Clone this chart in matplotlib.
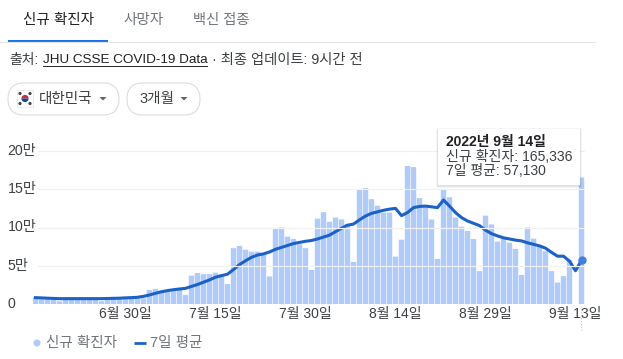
#!/usr/bin/env python3
# -*- coding:utf-8 -*-
import matplotlib
matplotlib.use("Agg")
import matplotlib.pyplot as plt
from matplotlib.patches import Circle, FancyBboxPatch, Polygon, Rectangle, Wedge
from matplotlib.transforms import ScaledTranslation

plt.rcParams['font.family'] = ['Liberation Sans', 'Noto Sans CJK KR', 'DejaVu Sans']

# daily cases, unit = 10,000 (man), 2022-06-15 .. 2022-09-14
cases = [0.9, 0.75, 0.7, 0.62, 0.35, 0.65, 0.75, 0.72, 0.7, 0.68,
         0.65, 0.35, 0.65, 0.75, 0.7, 0.95, 1.0, 1.0, 0.75, 1.83,
         1.96, 1.75, 1.85, 1.95, 2.0, 1.2, 3.7, 4.05, 3.9, 3.9,
         4.1, 3.9, 2.6, 7.3, 7.6, 7.1, 6.85, 6.85, 6.5, 3.6,
         9.9, 10.0, 8.8, 8.5, 7.8, 7.3, 4.45, 11.15, 12.0, 10.75,
         11.3, 11.05, 10.45, 5.5, 14.95, 15.15, 13.7, 12.85, 11.95, 11.95,
         6.2, 8.4, 18.05, 17.9, 13.85, 12.7, 11.05, 5.9, 15.0, 13.95,
         11.3, 10.1, 9.55, 8.5, 4.3, 11.55, 10.4, 8.15, 8.5, 8.0,
         7.2, 3.8, 10.0, 8.55, 7.5, 6.9, 4.3, 2.8, 3.65, 5.75,
         0, 16.53]
avg7 = [0.83, 0.8, 0.76, 0.73, 0.7, 0.7, 0.7, 0.7, 0.7, 0.7,
        0.7, 0.7, 0.72, 0.74, 0.76, 0.8, 0.83, 0.88, 1.0, 1.18,
        1.4, 1.6, 1.75, 1.87, 1.96, 2.05, 2.3, 2.55, 2.85, 3.15,
        3.5, 3.7, 3.9, 4.5, 5.15, 5.65, 6.1, 6.4, 6.55, 6.8,
        7.15, 7.4, 7.65, 7.9, 8.05, 8.2, 8.3, 8.5, 8.75, 9.0,
        9.45, 9.9, 10.3, 10.45, 11.0, 11.5, 11.85, 12.05, 12.25, 12.4,
        12.5, 11.55, 11.95, 12.6, 12.75, 12.8, 12.7, 12.6, 13.6, 12.8,
        11.95, 11.3, 10.85, 10.55, 10.25, 9.65, 9.2, 8.9, 8.65, 8.5,
        8.35, 8.25, 8.0, 7.8, 7.6, 7.3, 6.75, 6.25, 6.25, 5.6,
        4.35, 5.713]
day_idx = list(range(len(cases)))
x_ticks = [15, 30, 45, 60, 75, 90]
x_labels = ["6월 30일", "7월 15일", "7월 30일", "8월 14일", "8월 29일", "9월 13일"]
y_ticks = [0, 5, 10, 15, 20]
y_labels = ["0", "5만", "10만", "15만", "20만"]

W, H = 623, 359
BAR = "#aecbfa"
LINE = "#1a62c9"
DARK = "#202124"
TXT = "#3c4043"
GRAY = "#70757a"

fig = plt.figure(figsize=(W / 100, H / 100), dpi=100)

# chart, left edge 32.5px, baseline 304px, 20man at 151px
ax = fig.add_axes([32.5 / W, (H - 304) / H, 552 / W, 153 / H])
ax.bar(day_idx, [v * 10000 for v in cases], width=0.9, color=BAR, zorder=2, snap=False)
ax.plot(day_idx, [v * 10000 for v in avg7], color=LINE, lw=2.2, zorder=3, solid_joinstyle="round", clip_on=False)
ax.plot(day_idx[-1:], [avg7[-1] * 10000], "o", color="#3f7fe6", ms=6, mew=0, zorder=4, clip_on=False)
ax.set_xlim(-0.5, 91.5)
ax.set_ylim(0, 200000)
ax.set_xticks(x_ticks)
ax.set_xticklabels(x_labels, fontsize=10, color=TXT)
ax.set_yticks([v * 10000 for v in y_ticks])
ax.set_yticklabels(y_labels, fontsize=10.2, color=TXT, ha="left")
ax.tick_params(axis="x", length=0, pad=2)
ax.tick_params(axis="y", length=0, pad=18)
# y labels sit a bit above their gridlines
for t in ax.get_yticklabels():
    t.set_transform(t.get_transform() + ScaledTranslation(0, 1.5 / 100, fig.dpi_scale_trans))
for s in ax.spines.values():
    s.set_visible(False)
ax.grid(False)

# everything else is placed in pixel coordinates
ui = fig.add_axes([0, 0, 1, 1], facecolor="none")
ui.set_xlim(0, W)
ui.set_ylim(H, 0)
ui.axis("off")

# gridlines start a bit right of the axes edge
for gy in [151, 189.25, 227.5, 265.75]:
    ui.plot([38, 584], [gy, gy], color="#f1f1f1", lw=0.9, zorder=0)
ui.plot([581, 581], [306, 332], color="#c9c9c9", lw=0.7, ls=(0, (1, 2)))

# tabs
ui.text(23, 20, "신규 확진자", fontsize=10.5, color=DARK, va="center")
ui.text(123, 20, "사망자", fontsize=10.5, color=GRAY, va="center")
ui.text(193, 20, "백신 접종", fontsize=10.3, color=GRAY, va="center")
ui.plot([0, 595], [42, 42], color="#e3e4e6", lw=0.8)
ui.add_patch(Rectangle((8, 40), 100, 2.4, color="#1a73e8", lw=0))

# source line
ui.text(9, 60, "출처:", fontsize=10, color=TXT, va="center")
ui.text(43, 60, "JHU CSSE COVID-19 Data", fontsize=9.7, color=DARK, va="center")
ui.plot([43, 207], [66, 66], color=DARK, lw=0.7)
ui.text(212, 60, "· 최종 업데이트: 9시간 전", fontsize=10.3, color=TXT, va="center")

# dropdown pills
for x0, x1 in [(8, 119), (127, 200)]:
    ui.add_patch(FancyBboxPatch((x0, 83), x1 - x0, 32, boxstyle="round,pad=0,rounding_size=16",
                                fc="white", ec="#dadce0", lw=0.8))
ui.text(39, 98.5, "대한민국", fontsize=10.5, color=TXT, va="center")
ui.text(139, 98.5, "3개월", fontsize=10.5, color=TXT, va="center")
for arrow_x in [103, 184]:
    ui.add_patch(Polygon([(arrow_x - 3.5, 97), (arrow_x + 3.5, 97), (arrow_x, 100.5)], color="#5f6368", lw=0))

# flag
ui.add_patch(Rectangle((17, 90), 16, 17, fc="white", ec="#e3e3e3", lw=0.5))
ui.add_patch(Wedge((25, 98.5), 3.6, 180, 360, fc="#cd2e3a", lw=0))
ui.add_patch(Wedge((25, 98.5), 3.6, 0, 180, fc="#0f4a9c", lw=0))
for fx, fy in [(20, 93.5), (30, 93.5), (20, 103.5), (30, 103.5)]:
    ui.add_patch(Circle((fx, fy), 1.6, fc="#444444", lw=0))

# legend
ui.add_patch(Circle((37, 343), 3.5, fc=BAR, lw=0))
ui.text(46, 343, "신규 확진자", fontsize=10.5, color=GRAY, va="center")
ui.plot([134, 146], [343, 343], color=LINE, lw=2.0, solid_capstyle="butt")
ui.text(150, 343, "7일 평균", fontsize=10.5, color=GRAY, va="center")

# tooltip
for grow, alpha in [(2, 0.04), (1, 0.07)]:
    ui.add_patch(Rectangle((438 - grow, 129 - grow + 1), 142 + 2 * grow, 56 + 2 * grow, fc="black", alpha=alpha, lw=0))
ui.add_patch(Rectangle((438, 129), 142, 56, fc="white", lw=0))
ui.text(446, 142, "2022년 9월 14일", fontsize=10, fontweight="bold", color=DARK, va="center")
ui.text(446, 157, "신규 확진자: 165,336", fontsize=10.1, color=TXT, va="center")
ui.text(446, 171, "7일 평균: 57,130", fontsize=10, color=TXT, va="center")

plt.savefig("out.png", dpi=100)
